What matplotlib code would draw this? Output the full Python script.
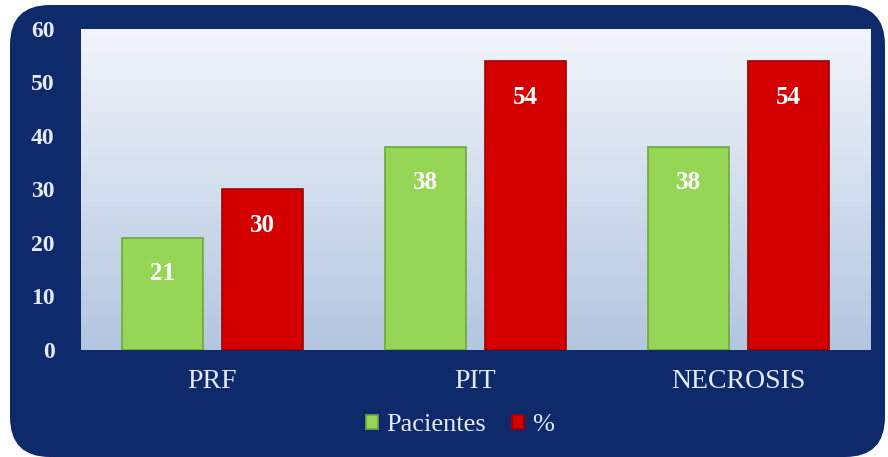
import matplotlib
matplotlib.use("Agg")
import matplotlib.pyplot as plt
import numpy as np
from matplotlib.patches import FancyBboxPatch
from matplotlib.colors import LinearSegmentedColormap

categories = ["PRF", "PIT", "NECROSIS"]
pacientes = [21, 38, 38]
porcentaje = [30, 54, 54]
yticks = [0, 10, 20, 30, 40, 50, 60]
series_names = ["Pacientes", "%"]

NAVY = "#0F2A6B"
TXT = "#E4EAF4"
GREEN = "#95D656"
RED = "#D40000"

fig = plt.figure(figsize=(8.88, 4.57), dpi=100, facecolor="white")
bg = FancyBboxPatch((10/888, 0.0), 875/888, 452/457,
                    boxstyle="round,pad=0,rounding_size=0.045",
                    transform=fig.transFigure, facecolor=NAVY, edgecolor="none",
                    mutation_aspect=888/457, zorder=-10)
fig.patches.append(bg)

ax = fig.add_axes([81/888, 1 - 350/457, (870-81)/888, (350-29)/457])
ax.set_zorder(1)
ax.set_facecolor("none")
grad = np.linspace(0, 1, 256).reshape(-1, 1)
cmap = LinearSegmentedColormap.from_list("g", ["#B3C6E0", "#F2F5FB"])
ax.imshow(grad, extent=[0, 1, 0, 1], transform=ax.transAxes, cmap=cmap,
          origin="lower", aspect="auto", zorder=0)

x = np.arange(len(categories))
w = 0.31
off = 0.19
b1 = ax.bar(x - off, pacientes, w, color=GREEN, edgecolor="#6FA83A", linewidth=1.2, zorder=2, label=series_names[0])
b2 = ax.bar(x + off, porcentaje, w, color=RED, edgecolor="#9E0000", linewidth=1.2, zorder=2, label=series_names[1])

for bars, vals in ((b1, pacientes), (b2, porcentaje)):
    for r, v in zip(bars, vals):
        ax.annotate(str(v), (r.get_x() + r.get_width()/2, v), xytext=(0, -26),
                    textcoords="offset points", ha="center", va="center",
                    color="white", fontsize=18, fontweight="bold",
                    family="Liberation Serif", zorder=3)

ax.set_xlim(-0.5, 2.5)
ax.set_ylim(0, 60)
ax.set_yticks(yticks)
ax.set_yticklabels([str(t) for t in yticks], family="Liberation Serif",
                   fontsize=17, fontweight="bold", color=TXT)
ax.set_xticks(x)
ax.set_xticklabels(categories, family="Liberation Serif", fontsize=20, color=TXT)
ax.tick_params(length=0)
ax.tick_params(axis="y", pad=19)
ax.tick_params(axis="x", pad=14)
for s in ax.spines.values():
    s.set_visible(False)

leg = fig.legend(handles=[b1, b2], labels=series_names, loc="center",
                 bbox_to_anchor=(460/888, 1 - 425/457), ncol=2, frameon=False,
                 prop={"family": "Liberation Serif", "size": 19},
                 handlelength=0.45, handleheight=0.45, handletextpad=0.3,
                 columnspacing=1.0)
for t in leg.get_texts():
    t.set_color(TXT)

fig.savefig("out.png", dpi=100, facecolor="white")
